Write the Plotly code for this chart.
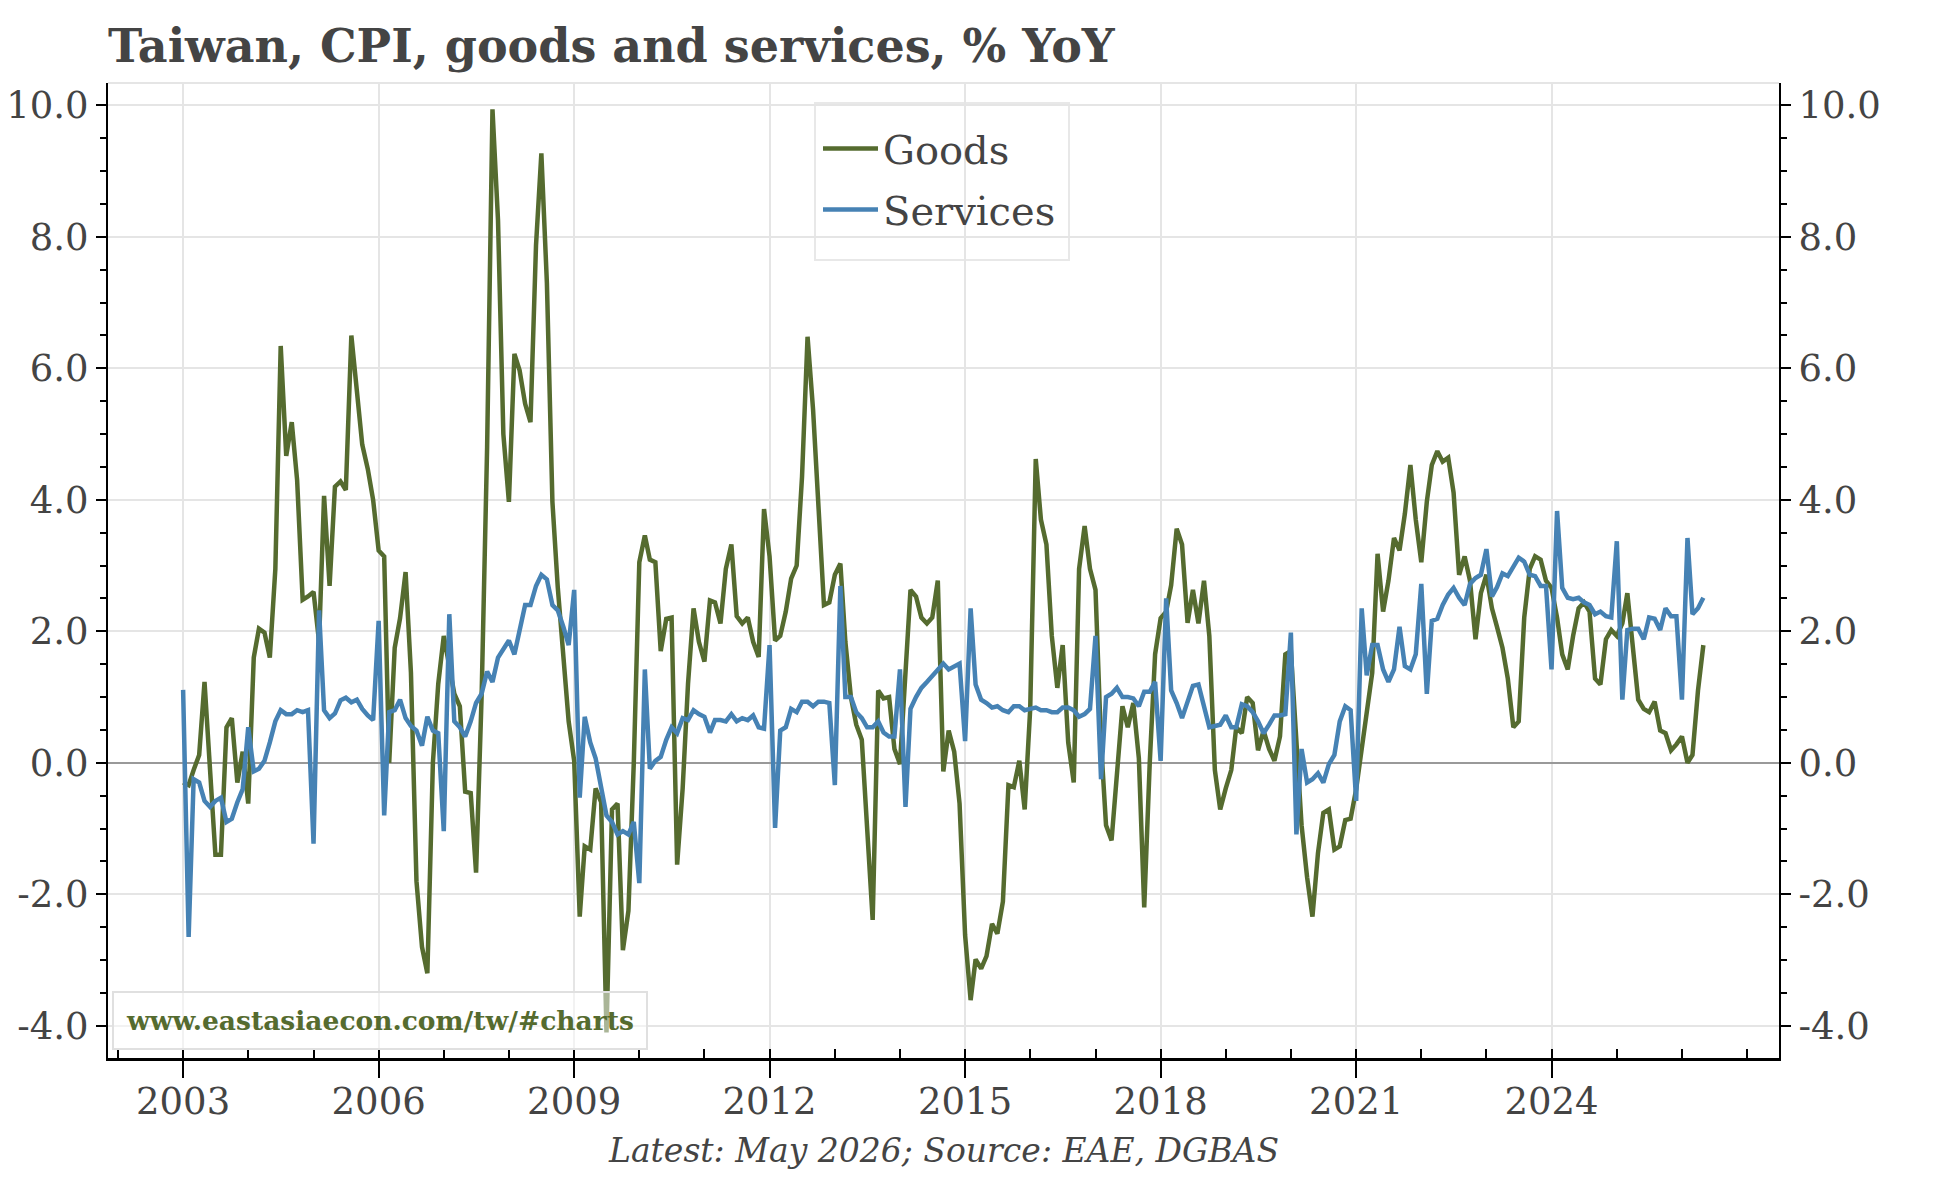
import pandas as pd
import plotly.graph_objects as go

start = "2003-01-01"

goods = [
    # 2003
    -0.3, -0.34, -0.11, 0.12, 1.23, -0.1, -1.4, -1.4, 0.54, 0.68, -0.3, 0.17,
    # 2004
    -0.62, 1.6, 2.04, 1.98, 1.6, 2.95, 6.34, 4.67, 5.18, 4.3, 2.48, 2.53,
    # 2005
    2.6, 1.84, 4.06, 2.69, 4.2, 4.28, 4.15, 6.5, 5.72, 4.84, 4.47, 4.0,
    # 2006
    3.23, 3.14, 0.0, 1.75, 2.2, 2.9, 1.37, -1.8, -2.8, -3.2, 0.0, 1.2,
    # 2007
    1.93, 1.5, 1.05, 0.86, -0.44, -0.46, -1.67, 1.0, 4.8, 9.94, 8.25, 5.0,
    # 2008
    3.97, 6.22, 5.97, 5.46, 5.18, 7.87, 9.27, 7.3, 3.97, 2.67, 1.56, 0.63,
    # 2009
    0.03, -2.34, -1.27, -1.32, -0.39, -0.6, -4.1, -0.71, -0.62, -2.85, -2.25, 0.0,
    # 2010
    3.05, 3.46, 3.09, 3.05, 1.7, 2.19, 2.21, -1.55, -0.39, 1.2, 2.35, 1.84,
    # 2011
    1.54, 2.47, 2.44, 2.12, 2.95, 3.32, 2.23, 2.12, 2.21, 1.84, 1.61, 3.86,
    # 2012
    3.14, 1.86, 1.93, 2.3, 2.8, 3.0, 4.35, 6.48, 5.37, 3.9, 2.4, 2.44,
    # 2013
    2.86, 3.03, 1.84, 1.0, 0.58, 0.35, -0.95, -2.39, 1.1, 0.98, 1.0, 0.21,
    # 2014
    -0.02, 1.3, 2.63, 2.53, 2.21, 2.12, 2.21, 2.77, -0.13, 0.49, 0.17, -0.62,
    # 2015
    -2.62, -3.61, -2.99, -3.13, -2.94, -2.45, -2.6, -2.11, -0.34, -0.37, 0.03, -0.71,
    # 2016
    0.82, 4.62, 3.7, 3.32, 1.93, 1.14, 1.79, 0.31, -0.3, 2.95, 3.6, 2.95,
    # 2017
    2.63, 0.3, -0.95, -1.18, -0.2, 0.86, 0.54, 0.91, 0.07, -2.2, 0.0, 1.65,
    # 2018
    2.2, 2.3, 2.7, 3.56, 3.32, 2.13, 2.63, 2.12, 2.77, 1.93, -0.11, -0.71,
    # 2019
    -0.39, -0.11, 0.54, 0.45, 1.0, 0.91, 0.19, 0.49, 0.21, 0.03, 0.4, 1.65,
    # 2020
    1.7, 0.26, -0.95, -1.74, -2.34, -1.37, -0.76, -0.71, -1.32, -1.27, -0.87, -0.85,
    # 2021
    -0.4, 0.21, 0.8, 1.37, 3.18, 2.3, 2.77, 3.42, 3.23, 3.79, 4.53, 3.7,
    # 2022
    3.05, 3.97, 4.53, 4.74, 4.58, 4.64, 4.11, 2.86, 3.14, 2.77, 1.88, 2.58,
    # 2023
    2.86, 2.35, 2.07, 1.75, 1.28, 0.54, 0.63, 2.21, 2.95, 3.14, 3.09, 2.77,
    # 2024
    2.66, 2.21, 1.65, 1.42, 1.93, 2.35, 2.44, 2.3, 1.28, 1.19, 1.88, 2.02,
    # 2025
    1.93, 2.12, 2.58, 1.8, 0.96, 0.82, 0.77, 0.93, 0.49, 0.45, 0.19, 0.28,
    # 2026
    0.4, 0.0, 0.12, 1.1, 1.79,
]

services = [
    # 2003
    1.11, -2.65, -0.25, -0.30, -0.58, -0.67, -0.58, -0.53, -0.90, -0.85, -0.6, -0.4,
    # 2004
    0.54, -0.13, -0.09, 0.03, 0.31, 0.63, 0.80, 0.74, 0.74, 0.80, 0.77, 0.80,
    # 2005
    -1.23, 2.32, 0.8, 0.68, 0.75, 0.95, 0.99, 0.92, 0.96, 0.82, 0.72, 0.65,
    # 2006
    2.16, -0.8, 0.77, 0.8, 0.96, 0.68, 0.56, 0.49, 0.26, 0.7, 0.49, 0.45,
    # 2007
    -1.04, 2.26, 0.63, 0.54, 0.4, 0.63, 0.91, 1.05, 1.39, 1.23, 1.6, 1.73,
    # 2008
    1.86, 1.65, 2.02, 2.4, 2.4, 2.69, 2.86, 2.79, 2.4, 2.32, 2.07, 1.79,
    # 2009
    2.63, -0.53, 0.7, 0.31, 0.07, -0.39, -0.8, -0.9, -1.09, -1.04, -1.09, -0.9,
    # 2010
    -1.83, 1.42, -0.09, 0.03, 0.09, 0.35, 0.54, 0.45, 0.68, 0.65, 0.8, 0.74,
    # 2011
    0.7, 0.46, 0.65, 0.65, 0.63, 0.74, 0.63, 0.68, 0.65, 0.72, 0.54, 0.52,
    # 2012
    1.79, -0.99, 0.49, 0.54, 0.82, 0.77, 0.93, 0.93, 0.86, 0.93, 0.93, 0.91,
    # 2013
    -0.34, 2.69, 1.0, 1.0, 0.77, 0.68, 0.54, 0.54, 0.63, 0.46, 0.4, 0.4,
    # 2014
    1.42, -0.67, 0.82, 1.0, 1.14, 1.23, 1.33, 1.42, 1.51, 1.42, 1.47, 1.51,
    # 2015
    0.33, 2.35, 1.19, 0.96, 0.91, 0.84, 0.86, 0.8, 0.77, 0.86, 0.86, 0.8,
    # 2016
    0.82, 0.84, 0.8, 0.8, 0.77, 0.77, 0.84, 0.84, 0.8, 0.7, 0.74, 0.82,
    # 2017
    1.93, -0.25, 1.0, 1.05, 1.14, 1.0, 1.0, 0.98, 0.86, 1.08, 1.08, 1.23,
    # 2018
    0.03, 2.5, 1.1, 0.91, 0.68, 0.91, 1.17, 1.19, 0.86, 0.54, 0.56, 0.58,
    # 2019
    0.72, 0.54, 0.54, 0.89, 0.86, 0.77, 0.63, 0.45, 0.58, 0.72, 0.72, 0.74,
    # 2020
    1.98, -1.09, 0.21, -0.3, -0.25, -0.16, -0.3, -0.02, 0.12, 0.63, 0.86, 0.8,
    # 2021
    -0.58, 2.35, 1.33, 1.79, 1.79, 1.42, 1.23, 1.42, 2.07, 1.47, 1.42, 1.65,
    # 2022
    2.72, 1.05, 2.16, 2.19, 2.4, 2.56, 2.66, 2.51, 2.4, 2.72, 2.81, 2.86,
    # 2023
    3.25, 2.53, 2.67, 2.88, 2.84, 2.97, 3.12, 3.06, 2.86, 2.84, 2.69, 2.69,
    # 2024
    1.42, 3.83, 2.66, 2.51, 2.49, 2.51, 2.44, 2.4, 2.26, 2.3, 2.23, 2.21,
    # 2025
    3.37, 0.96, 2.02, 2.04, 2.04, 1.88, 2.21, 2.19, 2.02, 2.35, 2.23, 2.23,
    # 2026
    0.96, 3.42, 2.26, 2.35, 2.51,
]

dates = pd.date_range(start, periods=len(goods), freq="MS")

year_ticks = ["2003-01-01", "2006-01-01", "2009-01-01", "2012-01-01",
              "2015-01-01", "2018-01-01", "2021-01-01", "2024-01-01"]
year_labels = ["2003", "2006", "2009", "2012", "2015", "2018", "2021", "2024"]
y_ticks = [-4, -2, 0, 2, 4, 6, 8, 10]
y_labels = ["-4.0", "-2.0", "0.0", "2.0", "4.0", "6.0", "8.0", "10.0"]

GREEN = "#556B2F"
BLUE = "#4682B4"
TXT = "#444444"
GRID = "#e5e5e5"
FONT = "Georgia, 'DejaVu Serif', serif"

# plot area in pixels
L, R, T, B = 108, 1779, 83, 1058
PW, PH = R - L, B - T


def px(x):
    return (x - L) / PW


def py(y):
    return (B - y) / PH


fig = go.Figure()
fig.add_trace(go.Scatter(x=dates, y=goods, name="Goods", mode="lines",
                         line=dict(color=GREEN, width=4.5), legendgroup="g"))
fig.add_trace(go.Scatter(x=dates, y=services, name="Services", mode="lines",
                         line=dict(color=BLUE, width=4.5), legendgroup="s"))
fig.add_trace(go.Scatter(x=[dates[0]], y=[None], yaxis="y2", showlegend=False,
                         hoverinfo="skip"))

yax = dict(
    range=[-4.49, 10.34], tickvals=y_ticks, ticktext=y_labels,
    showgrid=True, gridcolor=GRID, gridwidth=1.5,
    showline=True, linecolor="black", linewidth=2,
    ticks="outside", ticklen=10, tickwidth=2, tickcolor="black",
    minor=dict(dtick=0.5, tick0=0, ticks="outside", ticklen=6, tickwidth=1.5,
               tickcolor="black", showgrid=False),
    tickfont=dict(family=FONT, size=37, color=TXT),
    zeroline=True, zerolinecolor="#999999", zerolinewidth=2,
    automargin=False,
)

fig.update_layout(
    width=1944, height=1178,
    margin=dict(l=L, r=1944 - R, t=T, b=1178 - B, autoexpand=False),
    paper_bgcolor="white", plot_bgcolor="white",
    title=dict(text="<b>Taiwan, CPI, goods and services, % YoY</b>",
               x=108 / 1944, xanchor="left", xref="container",
               y=1 - 46 / 1178, yanchor="middle", yref="container",
               font=dict(family=FONT, size=46, color=TXT)),
    xaxis=dict(
        type="date", range=["2001-11-06", "2027-06-29"],
        tickvals=year_ticks, ticktext=year_labels,
        showgrid=True, gridcolor=GRID, gridwidth=1.5,
        showline=True, linecolor="black", linewidth=2.5,
        ticks="outside", ticklen=17, tickwidth=1.5, tickcolor="black",
        ticklabelstandoff=-8,
        minor=dict(dtick="M12", tick0="2003-01-01", ticks="inside", ticklen=9,
                   tickwidth=1.5, tickcolor="black", showgrid=False),
        tickfont=dict(family=FONT, size=37, color=TXT),
        zeroline=False, automargin=False,
    ),
    yaxis=yax,
    yaxis2=dict(yax, overlaying="y", side="right", matches="y", showgrid=False,
                zeroline=False),
    legend=dict(x=px(818), y=py(116), xanchor="left", yanchor="top",
                bgcolor="rgba(0,0,0,0)", borderwidth=0,
                font=dict(family=FONT, size=40, color=TXT),
                itemwidth=55,
                traceorder="grouped", tracegroupgap=6),
    showlegend=True,
    shapes=[
        dict(type="line", xref="paper", yref="paper", x0=0, x1=1, y0=1, y1=1,
             line=dict(color="#e5e5e5", width=2)),
        dict(type="rect", xref="paper", yref="paper", layer="below",
             x0=px(815), x1=px(1069), y0=py(103), y1=py(260),
             fillcolor="white", line=dict(color="#e8e8e8", width=2)),
    ],
    annotations=[
        dict(text="<b>www.eastasiaecon.com/tw/#charts</b>", xref="paper", yref="paper",
             x=px(112), y=py(1050), xanchor="left", yanchor="bottom",
             showarrow=False, font=dict(family=FONT, size=26.5, color=GREEN),
             bgcolor="rgba(255,255,255,0.5)", bordercolor="#e0e0e0", borderwidth=2,
             borderpad=12),
        dict(text="<i>Latest: May 2026; Source: EAE, DGBAS</i>", xref="paper", yref="paper",
             x=px(943), y=py(1150), xanchor="center", yanchor="middle",
             showarrow=False, font=dict(family=FONT, size=33, color=TXT)),
    ],
)

fig.write_html("out.html")
